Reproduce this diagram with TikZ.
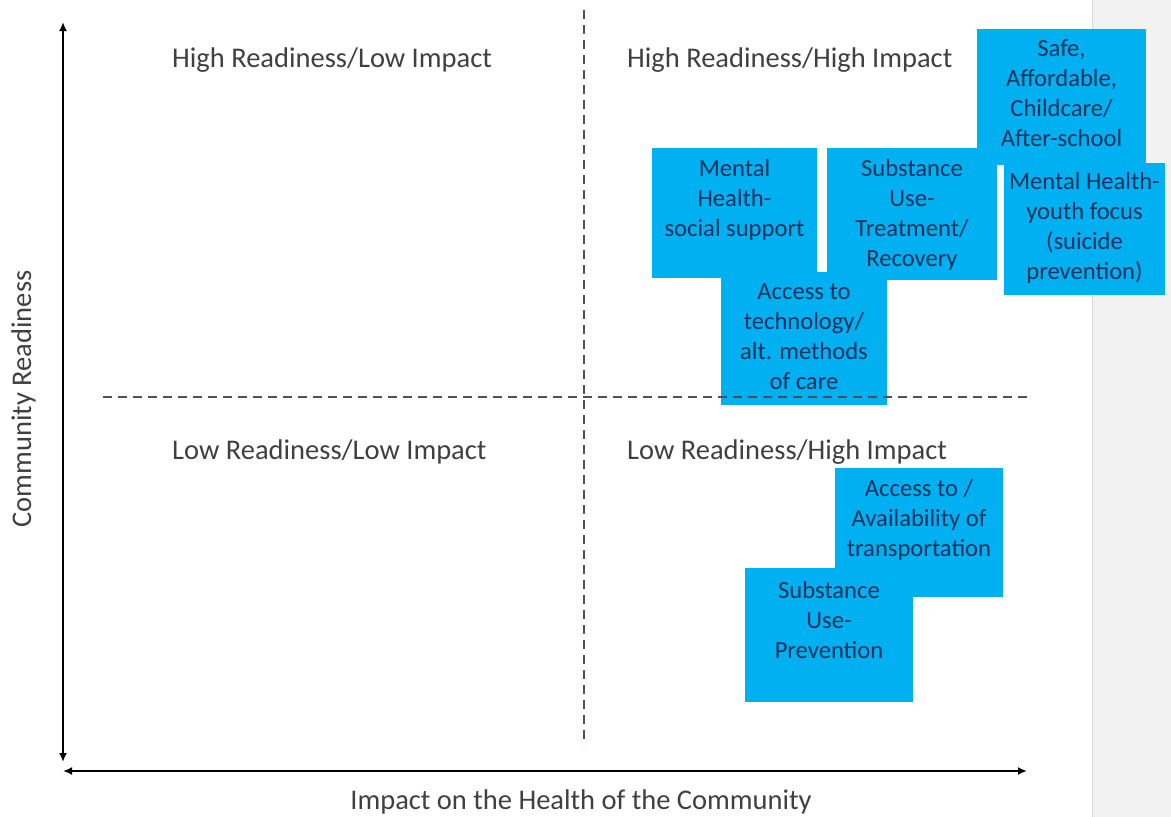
\documentclass[tikz,border=0pt]{standalone}
\usepackage{fontspec}
\setmainfont{Carlito}
\usetikzlibrary{arrows.meta}
\definecolor{boxblue}{HTML}{00B0F0}
\definecolor{boxtext}{HTML}{13315C}
\definecolor{headgray}{HTML}{404040}
\definecolor{panelgray}{HTML}{F2F2F2}
\definecolor{paneledge}{HTML}{DADADA}
\definecolor{dashgray}{HTML}{505050}
\newcommand{\firstline}{\rule{0pt}{20pt}}
\begin{document}
\begin{tikzpicture}[x=1pt,y=-1pt,
  heading/.style={font=\fontsize{28.5}{34}\selectfont, text=headgray, inner sep=0pt, anchor=base west},
  axislabel/.style={font=\fontsize{28.5}{34}\selectfont, text=headgray, inner sep=0pt, anchor=base},
  axisline/.style={line width=2.2pt, black, {Latex[length=9pt,width=8pt]}-{Latex[length=9pt,width=8pt]}},
  divider/.style={line width=1.8pt, dashgray, dash pattern=on 9pt off 6pt},
  bluebox/.style={fill=boxblue, draw=none, inner sep=0pt},
  boxlabel/.style={font=\fontsize{24.6}{30}\selectfont, text=boxtext, align=center, inner sep=0pt, anchor=north}
]
\useasboundingbox (0,0) rectangle (1171,817);
\fill[white] (0,0) rectangle (1171,817);
% side panel
\fill[panelgray] (1092,0) rectangle (1171,817);
\draw[paneledge, line width=1pt] (1092,0) -- (1092,817);

% boxes
\node[bluebox, minimum width=169pt, minimum height=136pt] (safe) at (1061.5,97) {};
\node[boxlabel] (safeT) at ([yshift=-7pt]safe.north) {\firstline Safe,\\Affordable,\\Childcare/\\After-school};

\node[bluebox, minimum width=170pt, minimum height=132pt] (subtr) at (912,214) {};
\node[boxlabel] (subtrT) at ([yshift=-8pt]subtr.north) {\firstline Substance\\Use-\\Treatment/\\Recovery};

\node[bluebox, minimum width=161pt, minimum height=132pt] (mhy) at (1084.5,229) {};
\node[boxlabel] (mhyT) at ([yshift=-6pt]mhy.north) {\firstline Mental Health-\\youth focus\\(suicide\\prevention)};

\node[bluebox, minimum width=165pt, minimum height=130pt] (mhs) at (734.5,213) {};
\node[boxlabel] (mhsT) at ([yshift=-8pt]mhs.north) {\firstline Mental\\Health-\\social support};

\node[bluebox, minimum width=166pt, minimum height=133pt] (tech) at (804,338.5) {};
\node[boxlabel] (techT) at ([yshift=-7pt]tech.north) {\firstline Access to\\technology/\\alt. methods\\of care};

\node[bluebox, minimum width=168pt, minimum height=129pt] (trans) at (919,532.5) {};
\node[boxlabel] (transT) at ([yshift=-8pt]trans.north) {\firstline Access to /\\Availability of\\transportation};

\node[bluebox, minimum width=168pt, minimum height=134pt] (prev) at (829,635) {};
\node[boxlabel] (prevT) at ([yshift=-10pt]prev.north) {\firstline Substance\\Use-\\Prevention};

% dividers
\coordinate (vtop) at (584,10);
\coordinate (vbot) at (584,745);
\coordinate (hl) at (103,397);
\coordinate (hr) at (1030,397);
\draw[divider] (vtop) -- (vbot);
\draw[divider] (hl) -- (hr);

% axes
\coordinate (ytop) at (63,22);
\coordinate (ybot) at (63,762);
\coordinate (xl) at (63,771);
\coordinate (xr) at (1027,771);
\draw[axisline] (ybot) -- (ytop);
\draw[axisline] (xl) -- (xr);

% headings
\node[heading] (hrli) at (172,67) {High Readiness/Low Impact};
\node[heading] (hrhi) at (627,67) {High Readiness/High Impact};
\node[heading] (lrli) at (172,459) {Low Readiness/Low Impact};
\node[heading] (lrhi) at (627,459) {Low Readiness/High Impact};

% axis labels
\node[axislabel] (xlab) at (581,809) {Impact on the Health of the Community};
\node[axislabel, rotate=90] (ylab) at (31,399) {Community Readiness};
\end{tikzpicture}
\end{document}
